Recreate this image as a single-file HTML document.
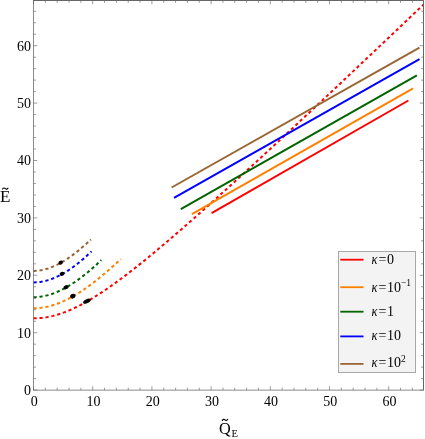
<!DOCTYPE html>
<html><head><meta charset="utf-8"><title>plot</title>
<style>html,body{margin:0;padding:0;background:#fff;}body{width:425px;height:439px;overflow:hidden;font-family:"Liberation Serif",serif;}</style>
</head><body>
<svg width="425" height="439" viewBox="0 0 425 439" style="display:block;will-change:transform">
<path d="M33.50,318.35 L35.46,318.32 L37.42,318.25 L39.38,318.12 L41.34,317.95 L43.29,317.72 L45.25,317.45 L47.21,317.12 L49.17,316.75 L51.13,316.33 L53.09,315.87 L55.05,315.36 L57.01,314.80 L58.97,314.20 L60.93,313.56 L62.88,312.87 L64.84,312.15 L66.80,311.39 L68.76,310.58 L70.72,309.74 L72.68,308.87 L74.64,307.96 L76.60,307.01 L78.56,306.04 L80.51,305.03 L82.47,303.99 L84.43,302.92 L86.39,301.82 L88.35,300.70 L90.31,299.55 L92.27,298.38 L94.23,297.18 L96.19,295.95 L98.15,294.71 L100.10,293.44 L102.06,292.15 L104.02,290.85 L105.98,289.52 L107.94,288.17 L109.90,286.81 L111.86,285.43 L113.82,284.03 L115.78,282.62 L117.74,281.20 L119.69,279.75 L121.65,278.30 L123.61,276.83 L125.57,275.35 L127.53,273.85 L129.49,272.35 L131.45,270.83 L133.41,269.30 L135.37,267.76 L137.32,266.21 L139.28,264.65 L141.24,263.08 L143.20,261.51 L145.16,259.92 L147.12,258.32 L149.08,256.72 L151.04,255.11 L153.00,253.49 L154.96,251.86 L156.91,250.23 L158.87,248.59 L160.83,246.94 L162.79,245.29 L164.75,243.63 L166.71,241.97 L168.67,240.30 L170.63,238.62 L172.59,236.94 L174.54,235.25 L176.50,233.56 L178.46,231.87 L180.42,230.16 L182.38,228.46 L184.34,226.75 L186.30,225.04 L188.26,223.32 L190.22,221.60 L192.18,219.87 L194.13,218.14 L196.09,216.41 L198.05,214.67 L200.01,212.93 L201.97,211.19 L203.93,209.44 L205.89,207.69 L207.85,205.94 L209.81,204.19 L211.76,202.43 L213.72,200.67 L215.68,198.90 L217.64,197.14 L219.60,195.37 L221.56,193.60 L223.52,191.82 L225.48,190.05 L227.44,188.27 L229.40,186.49 L231.35,184.71 L233.31,182.93 L235.27,181.14 L237.23,179.35 L239.19,177.56 L241.15,175.77 L243.11,173.98 L245.07,172.18 L247.03,170.38 L248.99,168.58 L250.94,166.78 L252.90,164.98 L254.86,163.18 L256.82,161.37 L258.78,159.57 L260.74,157.76 L262.70,155.95 L264.66,154.14 L266.62,152.33 L268.57,150.51 L270.53,148.70 L272.49,146.88 L274.45,145.07 L276.41,143.25 L278.37,141.43 L280.33,139.61 L282.29,137.78 L284.25,135.96 L286.21,134.14 L288.16,132.31 L290.12,130.49 L292.08,128.66 L294.04,126.83 L296.00,125.00 L297.96,123.17 L299.92,121.34 L301.88,119.51 L303.84,117.68 L305.79,115.84 L307.75,114.01 L309.71,112.17 L311.67,110.34 L313.63,108.50 L315.59,106.66 L317.55,104.82 L319.51,102.98 L321.47,101.14 L323.43,99.30 L325.38,97.46 L327.34,95.62 L329.30,93.78 L331.26,91.93 L333.22,90.09 L335.18,88.24 L337.14,86.40 L339.10,84.55 L341.06,82.71 L343.01,80.86 L344.97,79.01 L346.93,77.16 L348.89,75.31 L350.85,73.46 L352.81,71.61 L354.77,69.76 L356.73,67.91 L358.69,66.06 L360.65,64.20 L362.60,62.35 L364.56,60.50 L366.52,58.64 L368.48,56.79 L370.44,54.93 L372.40,53.08 L374.36,51.22 L376.32,49.37 L378.28,47.51 L380.23,45.65 L382.19,43.79 L384.15,41.93 L386.11,40.08 L388.07,38.22 L390.03,36.36 L391.99,34.50 L393.95,32.64 L395.91,30.77 L397.87,28.91 L399.82,27.05 L401.78,25.19 L403.74,23.33 L405.70,21.46 L407.66,19.60 L409.62,17.74 L411.58,15.87 L413.54,14.01 L415.50,12.14 L417.46,10.28 L419.41,8.41 L421.37,6.55 L423.33,4.68" fill="none" stroke="#ff0000" stroke-width="2" stroke-dasharray="3.2 2.8"/>
<path d="M33.50,308.30 L34.98,308.28 L36.46,308.22 L37.94,308.13 L39.43,308.00 L40.91,307.84 L42.39,307.63 L43.87,307.40 L45.35,307.13 L46.83,306.82 L48.31,306.49 L49.79,306.11 L51.28,305.71 L52.76,305.27 L54.24,304.81 L55.72,304.31 L57.20,303.78 L58.68,303.22 L60.16,302.63 L61.65,302.01 L63.13,301.36 L64.61,300.69 L66.09,299.99 L67.57,299.26 L69.05,298.50 L70.53,297.72 L72.02,296.91 L73.50,296.07 L74.98,295.21 L76.46,294.33 L77.94,293.42 L79.42,292.49 L80.90,291.54 L82.38,290.56 L83.87,289.57 L85.35,288.55 L86.83,287.51 L88.31,286.45 L89.79,285.37 L91.27,284.27 L92.75,283.15 L94.24,282.01 L95.72,280.86 L97.20,279.68 L98.68,278.49 L100.16,277.29 L101.64,276.06 L103.12,274.83 L104.61,273.57 L106.09,272.31 L107.57,271.02 L109.05,269.73 L110.53,268.42 L112.01,267.10 L113.49,265.77 L114.97,264.42 L116.46,263.07 L117.94,261.70 L119.42,260.32 L120.90,258.93" fill="none" stroke="#ff8000" stroke-width="2" stroke-dasharray="3.2 2.8"/>
<path d="M33.50,297.20 L34.65,297.19 L35.80,297.15 L36.95,297.08 L38.10,296.99 L39.25,296.87 L40.39,296.73 L41.54,296.56 L42.69,296.37 L43.84,296.15 L44.99,295.91 L46.14,295.64 L47.29,295.35 L48.44,295.04 L49.59,294.70 L50.74,294.34 L51.89,293.96 L53.04,293.56 L54.18,293.13 L55.33,292.68 L56.48,292.21 L57.63,291.72 L58.78,291.21 L59.93,290.68 L61.08,290.13 L62.23,289.55 L63.38,288.96 L64.53,288.35 L65.68,287.72 L66.83,287.07 L67.97,286.40 L69.12,285.71 L70.27,285.01 L71.42,284.28 L72.57,283.54 L73.72,282.78 L74.87,282.01 L76.02,281.21 L77.17,280.40 L78.32,279.58 L79.47,278.74 L80.62,277.88 L81.76,277.01 L82.91,276.12 L84.06,275.22 L85.21,274.30 L86.36,273.37 L87.51,272.42 L88.66,271.46 L89.81,270.49 L90.96,269.51 L92.11,268.51 L93.26,267.50 L94.41,266.47 L95.55,265.44 L96.70,264.39 L97.85,263.33 L99.00,262.26 L100.15,261.18 L101.30,260.08" fill="none" stroke="#006400" stroke-width="2" stroke-dasharray="3.2 2.8"/>
<path d="M33.50,282.40 L34.48,282.39 L35.47,282.36 L36.45,282.31 L37.43,282.23 L38.42,282.14 L39.40,282.02 L40.38,281.89 L41.36,281.74 L42.35,281.56 L43.33,281.37 L44.31,281.15 L45.30,280.92 L46.28,280.67 L47.26,280.40 L48.25,280.11 L49.23,279.80 L50.21,279.47 L51.19,279.13 L52.18,278.77 L53.16,278.38 L54.14,277.99 L55.13,277.57 L56.11,277.14 L57.09,276.68 L58.08,276.22 L59.06,275.73 L60.04,275.23 L61.03,274.71 L62.01,274.18 L62.99,273.63 L63.97,273.06 L64.96,272.48 L65.94,271.88 L66.92,271.27 L67.91,270.64 L68.89,269.99 L69.87,269.33 L70.86,268.66 L71.84,267.97 L72.82,267.27 L73.81,266.55 L74.79,265.82 L75.77,265.07 L76.75,264.31 L77.74,263.54 L78.72,262.76 L79.70,261.96 L80.69,261.14 L81.67,260.32 L82.65,259.48 L83.64,258.63 L84.62,257.77 L85.60,256.89 L86.58,256.01 L87.57,255.11 L88.55,254.20 L89.53,253.27 L90.52,252.34 L91.50,251.40" fill="none" stroke="#0000ff" stroke-width="2" stroke-dasharray="3.2 2.8"/>
<path d="M33.50,270.90 L34.47,270.89 L35.45,270.85 L36.42,270.80 L37.40,270.72 L38.37,270.62 L39.35,270.49 L40.32,270.35 L41.30,270.18 L42.27,270.00 L43.25,269.79 L44.22,269.56 L45.19,269.31 L46.17,269.04 L47.14,268.75 L48.12,268.45 L49.09,268.12 L50.07,267.77 L51.04,267.41 L52.02,267.02 L52.99,266.62 L53.97,266.20 L54.94,265.76 L55.92,265.31 L56.89,264.84 L57.86,264.35 L58.84,263.84 L59.81,263.32 L60.79,262.78 L61.76,262.23 L62.74,261.66 L63.71,261.07 L64.69,260.47 L65.66,259.85 L66.64,259.22 L67.61,258.58 L68.58,257.92 L69.56,257.25 L70.53,256.56 L71.51,255.86 L72.48,255.15 L73.46,254.42 L74.43,253.68 L75.41,252.93 L76.38,252.17 L77.36,251.40 L78.33,250.61 L79.31,249.81 L80.28,249.00 L81.25,248.18 L82.23,247.35 L83.20,246.51 L84.18,245.66 L85.15,244.80 L86.13,243.93 L87.10,243.05 L88.08,242.16 L89.05,241.27 L90.03,240.36 L91.00,239.45" fill="none" stroke="#996633" stroke-width="2" stroke-dasharray="3.2 2.8"/>
<line x1="211.6" y1="213.2" x2="408.4" y2="100.5" stroke="#ff0000" stroke-width="2"/>
<line x1="191.9" y1="214.1" x2="413.1" y2="88.3" stroke="#ff8000" stroke-width="2"/>
<line x1="180.8" y1="209.2" x2="416.9" y2="75.4" stroke="#006400" stroke-width="2"/>
<line x1="174" y1="197.9" x2="419.5" y2="59.2" stroke="#0000ff" stroke-width="2"/>
<line x1="171.6" y1="187.5" x2="419.5" y2="47.7" stroke="#996633" stroke-width="2"/>
<ellipse cx="60.7" cy="262.6" rx="2.3" ry="2.0" transform="rotate(-20 60.7 262.6)" fill="#000"/>
<ellipse cx="62" cy="273.9" rx="2.3" ry="2.1" transform="rotate(-20 62 273.9)" fill="#000"/>
<ellipse cx="66" cy="287.3" rx="2.6" ry="2.0" transform="rotate(-25 66 287.3)" fill="#000"/>
<ellipse cx="72.8" cy="296.2" rx="2.7" ry="2.3" transform="rotate(-25 72.8 296.2)" fill="#000"/>
<ellipse cx="86.9" cy="301.2" rx="4.0" ry="2.0" transform="rotate(-25 86.9 301.2)" fill="#000"/>
<rect x="33.5" y="0.5" width="390.0" height="389.6" fill="none" stroke="#666" stroke-width="0.75"/>
<line x1="423.5" y1="0.5" x2="423.5" y2="390.1" stroke="#666" stroke-width="1"/>
<line x1="33.5" y1="0.5" x2="423.5" y2="0.5" stroke="#666" stroke-width="1"/>
<path d="M33.50,390.1 v-3.8 M33.50,0.5 v3.8 M45.34,390.1 v-2.4 M45.34,0.5 v2.4 M57.18,390.1 v-2.4 M57.18,0.5 v2.4 M69.02,390.1 v-2.4 M69.02,0.5 v2.4 M80.86,390.1 v-2.4 M80.86,0.5 v2.4 M92.70,390.1 v-3.8 M92.70,0.5 v3.8 M104.54,390.1 v-2.4 M104.54,0.5 v2.4 M116.38,390.1 v-2.4 M116.38,0.5 v2.4 M128.22,390.1 v-2.4 M128.22,0.5 v2.4 M140.06,390.1 v-2.4 M140.06,0.5 v2.4 M151.90,390.1 v-3.8 M151.90,0.5 v3.8 M163.74,390.1 v-2.4 M163.74,0.5 v2.4 M175.58,390.1 v-2.4 M175.58,0.5 v2.4 M187.42,390.1 v-2.4 M187.42,0.5 v2.4 M199.26,390.1 v-2.4 M199.26,0.5 v2.4 M211.10,390.1 v-3.8 M211.10,0.5 v3.8 M222.94,390.1 v-2.4 M222.94,0.5 v2.4 M234.78,390.1 v-2.4 M234.78,0.5 v2.4 M246.62,390.1 v-2.4 M246.62,0.5 v2.4 M258.46,390.1 v-2.4 M258.46,0.5 v2.4 M270.30,390.1 v-3.8 M270.30,0.5 v3.8 M282.14,390.1 v-2.4 M282.14,0.5 v2.4 M293.98,390.1 v-2.4 M293.98,0.5 v2.4 M305.82,390.1 v-2.4 M305.82,0.5 v2.4 M317.66,390.1 v-2.4 M317.66,0.5 v2.4 M329.50,390.1 v-3.8 M329.50,0.5 v3.8 M341.34,390.1 v-2.4 M341.34,0.5 v2.4 M353.18,390.1 v-2.4 M353.18,0.5 v2.4 M365.02,390.1 v-2.4 M365.02,0.5 v2.4 M376.86,390.1 v-2.4 M376.86,0.5 v2.4 M388.70,390.1 v-3.8 M388.70,0.5 v3.8 M400.54,390.1 v-2.4 M400.54,0.5 v2.4 M412.38,390.1 v-2.4 M412.38,0.5 v2.4 M33.5,390.10 h3.8 M423.5,390.10 h-3.8 M33.5,378.62 h2.4 M423.5,378.62 h-2.4 M33.5,367.14 h2.4 M423.5,367.14 h-2.4 M33.5,355.66 h2.4 M423.5,355.66 h-2.4 M33.5,344.18 h2.4 M423.5,344.18 h-2.4 M33.5,332.70 h3.8 M423.5,332.70 h-3.8 M33.5,321.22 h2.4 M423.5,321.22 h-2.4 M33.5,309.74 h2.4 M423.5,309.74 h-2.4 M33.5,298.26 h2.4 M423.5,298.26 h-2.4 M33.5,286.78 h2.4 M423.5,286.78 h-2.4 M33.5,275.30 h3.8 M423.5,275.30 h-3.8 M33.5,263.82 h2.4 M423.5,263.82 h-2.4 M33.5,252.34 h2.4 M423.5,252.34 h-2.4 M33.5,240.86 h2.4 M423.5,240.86 h-2.4 M33.5,229.38 h2.4 M423.5,229.38 h-2.4 M33.5,217.90 h3.8 M423.5,217.90 h-3.8 M33.5,206.42 h2.4 M423.5,206.42 h-2.4 M33.5,194.94 h2.4 M423.5,194.94 h-2.4 M33.5,183.46 h2.4 M423.5,183.46 h-2.4 M33.5,171.98 h2.4 M423.5,171.98 h-2.4 M33.5,160.50 h3.8 M423.5,160.50 h-3.8 M33.5,149.02 h2.4 M423.5,149.02 h-2.4 M33.5,137.54 h2.4 M423.5,137.54 h-2.4 M33.5,126.06 h2.4 M423.5,126.06 h-2.4 M33.5,114.58 h2.4 M423.5,114.58 h-2.4 M33.5,103.10 h3.8 M423.5,103.10 h-3.8 M33.5,91.62 h2.4 M423.5,91.62 h-2.4 M33.5,80.14 h2.4 M423.5,80.14 h-2.4 M33.5,68.66 h2.4 M423.5,68.66 h-2.4 M33.5,57.18 h2.4 M423.5,57.18 h-2.4 M33.5,45.70 h3.8 M423.5,45.70 h-3.8 M33.5,34.22 h2.4 M423.5,34.22 h-2.4 M33.5,22.74 h2.4 M423.5,22.74 h-2.4 M33.5,11.26 h2.4 M423.5,11.26 h-2.4" stroke="#666" stroke-width="0.65" fill="none"/>
<g font-family="Liberation Serif, serif" font-size="14" fill="#000">
<text x="34.30" y="406" text-anchor="middle">0</text>
<text x="93.50" y="406" text-anchor="middle">10</text>
<text x="152.70" y="406" text-anchor="middle">20</text>
<text x="211.90" y="406" text-anchor="middle">30</text>
<text x="271.10" y="406" text-anchor="middle">40</text>
<text x="330.30" y="406" text-anchor="middle">50</text>
<text x="389.50" y="406" text-anchor="middle">60</text>
<text x="30.9" y="394.90" text-anchor="end">0</text>
<text x="30.9" y="337.50" text-anchor="end">10</text>
<text x="30.9" y="280.10" text-anchor="end">20</text>
<text x="30.9" y="222.70" text-anchor="end">30</text>
<text x="30.9" y="165.30" text-anchor="end">40</text>
<text x="30.9" y="107.90" text-anchor="end">50</text>
<text x="30.9" y="50.50" text-anchor="end">60</text>
</g>
<g font-family="Liberation Serif, serif" fill="#000">
<text x="0" y="201.9" font-size="17">E</text>
<path d="M2.3,189.6 C3.2,187.6 4.5,187.8 5.3,188.6 C6.1,189.4 7.3,189.6 8.2,187.7" fill="none" stroke="#000" stroke-width="1.1"/>
<text x="219" y="434.2" font-size="16.3">Q</text>
<path d="M222.1,420.9 C223,418.9 224.2,419.1 225,419.9 C225.8,420.7 226.9,420.9 227.8,419" fill="none" stroke="#000" stroke-width="1.1"/>
<text x="231.4" y="436.6" font-size="10.5">E</text>
</g>
<rect x="338.5" y="251.5" width="77" height="121" fill="#f3f3f3" stroke="#a8a8a8" stroke-width="1"/>
<g font-family="Liberation Serif, serif" font-size="14" fill="#000">
<line x1="340.3" y1="259.7" x2="363.5" y2="259.7" stroke="#ff0000" stroke-width="1.8"/>
<text transform="translate(371.4 264.2) scale(0.9 1)" font-style="italic">κ</text>
<text x="378.4" y="264.2">=</text>
<text x="387.1" y="264.2">0</text>
<line x1="340.3" y1="287.2" x2="363.5" y2="287.2" stroke="#ff8000" stroke-width="1.8"/>
<text transform="translate(371.4 291.6) scale(0.9 1)" font-style="italic">κ</text>
<text x="378.4" y="291.6">=</text>
<text x="387.1" y="291.6">10</text>
<text x="401.0" y="286.40000000000003" font-size="9.5">−1</text>
<line x1="340.3" y1="311.7" x2="363.5" y2="311.7" stroke="#006400" stroke-width="1.8"/>
<text transform="translate(371.4 315.7) scale(0.9 1)" font-style="italic">κ</text>
<text x="378.4" y="315.7">=</text>
<text x="387.1" y="315.7">1</text>
<line x1="340.3" y1="336.4" x2="363.5" y2="336.4" stroke="#0000ff" stroke-width="1.8"/>
<text transform="translate(371.4 340.4) scale(0.9 1)" font-style="italic">κ</text>
<text x="378.4" y="340.4">=</text>
<text x="387.1" y="340.4">10</text>
<line x1="340.3" y1="363.9" x2="363.5" y2="363.9" stroke="#996633" stroke-width="1.8"/>
<text transform="translate(371.4 367.2) scale(0.9 1)" font-style="italic">κ</text>
<text x="378.4" y="367.2">=</text>
<text x="387.1" y="367.2">10</text>
<text x="401.0" y="362.0" font-size="9.5">2</text>
</g>
</svg>
</body></html>
